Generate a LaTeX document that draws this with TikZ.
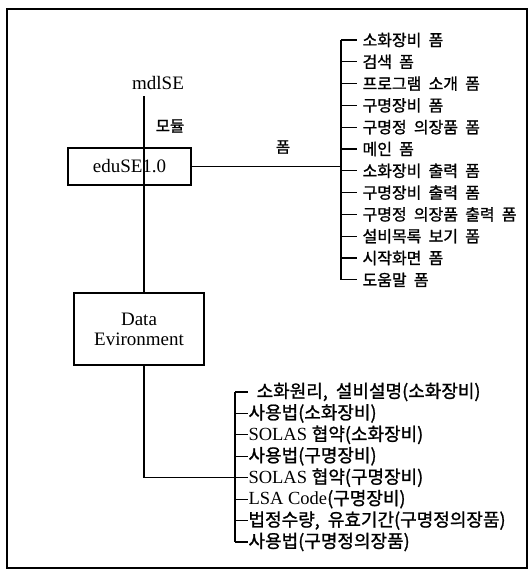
\documentclass[tikz,border=0pt]{standalone}
\usepackage{fontspec}
\setmainfont{Liberation Serif}
\newfontfamily\kr[WordSpace=2,FakeBold=1.2]{Noto Sans CJK KR}
\begin{document}
\begin{tikzpicture}[x=1pt,y=-1pt,
  line width=1.1pt,
  box/.style={draw, line width=1.1pt, inner sep=0pt, align=center, font=\fontsize{19}{21}\selectfont},
  lbl/.style={inner sep=0pt, font=\fontsize{19}{21}\selectfont},
  klbl/.style={inner sep=0pt, font=\kr\fontsize{15.5}{17}\selectfont},
  fitem/.style={anchor=west, inner sep=0pt, font=\kr\fontsize{16}{18}\selectfont},
  ditem/.style={anchor=west, inner sep=0pt, font=\fontsize{18.5}{20}\selectfont},
]
\useasboundingbox (0,0) rectangle (529,579);
% outer frame
\draw[line width=1.6pt] (7,9) rectangle (527,568);

% labels and boxes
\node[lbl] (mdl) at (158,83) {mdlSE};
\node[klbl] (modul) at (170,126) {모듈};
\node[box, minimum width=123pt, minimum height=37pt] (edu) at (129.5,166.5) {eduSE1.0};
\node[box, minimum width=130pt, minimum height=72pt, font=\fontsize{19}{20}\selectfont] (data) at (139,329) {Data\\Evironment};
\node[klbl] (pom) at (283,147) {폼};

\coordinate (top) at (144,96);
\draw (top) -- (top |- data.north);

% forms list
\foreach \t [count=\i from 0] in {소화장비 폼, 검색 폼, 프로그램 소개 폼, 구명장비 폼, 구명정 의장품 폼, 메인 폼, 소화장비 출력 폼, 구명장비 출력 폼, 구명정 의장품 출력 폼, 설비목록 보기 폼, 시작화면 폼, 도움말 폼} {
  \node[fitem] (f\i) at (362,40+21.8*\i) {\t};
  \coordinate (fb\i) at (341,40+21.8*\i);
  \draw[shorten >=5pt] (fb\i) -- (f\i.west);
}
\draw (fb0) -- (fb11);
\draw (edu.east) -- (edu.east -| fb0);

% data list
\foreach \t [count=\i from 0] in {{\kr\fontsize{18}{20}\selectfont\ 소화원리, 설비설명(소화장비)}, {\kr\fontsize{18}{20}\selectfont 사용법(소화장비)}, {SOLAS {\kr\fontsize{18}{20}\selectfont 협약(소화장비)}}, {\kr\fontsize{18}{20}\selectfont 사용법(구명장비)}, {SOLAS {\kr\fontsize{18}{20}\selectfont 협약(구명장비)}}, {LSA Code{\kr\fontsize{18}{20}\selectfont (구명장비)}}, {\kr\fontsize{18}{20}\selectfont 법정수량, 유효기간(구명정의장품)}, {\kr\fontsize{18}{20}\selectfont 사용법(구명정의장품)}} {
  \node[ditem] (d\i) at (248,392+21.43*\i) {\t};
  \coordinate (db\i) at (235,392+21.43*\i);
  \draw (db\i) -- (d\i.west);
}
\draw (db0) -- (db7);
\coordinate (dtop) at (top |- data.south);
\coordinate (dj) at (top |- db4);
\draw (dtop) -- (dj) -- (db4);
\end{tikzpicture}
\end{document}
